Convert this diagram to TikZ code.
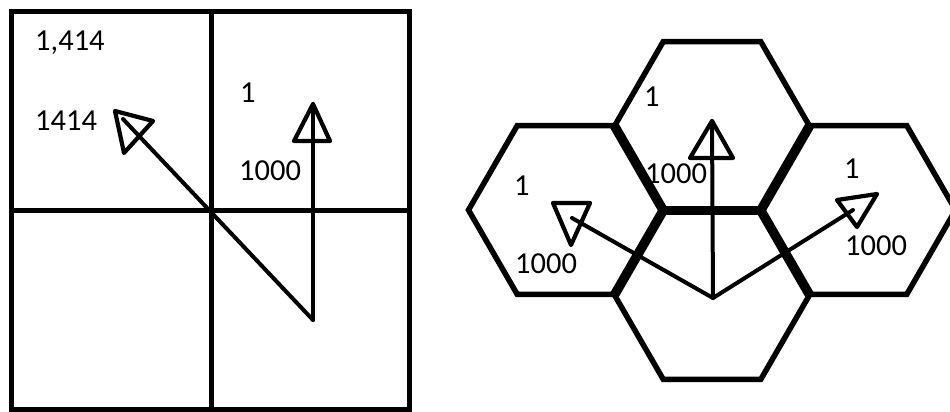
\documentclass[tikz,border=0pt]{standalone}
\usepackage{fontspec}
\setmainfont{Carlito}
\begin{document}
\begin{tikzpicture}[x=1pt,y=-1pt,
  gridline/.style={line width=5pt, line cap=rect},
  hexline/.style={line width=5.5pt, line join=miter},
  sharedline/.style={line width=9.5pt, line cap=butt},
  vecline/.style={line width=4pt, line cap=round, line join=round},
  headtri/.style={line width=4.2pt, line join=round},
  lbl/.style={inner sep=0pt, anchor=base west, font=\fontsize{30.5}{36}\selectfont}]
\useasboundingbox (0,0) rectangle (950,412);
\fill[white] (0,0) rectangle (950,412);

% ---------- left: square grid ----------
\draw[gridline] (11,12) rectangle (409,409);
\draw[gridline] (211,12) -- (211,409);
\draw[gridline] (11,210) -- (409,210);

\coordinate (o1) at (313,320);
\coordinate (up1) at (313,104);
\coordinate (dg1) at (123,119);
\draw[vecline] (o1) -- (up1);
\draw[vecline] (o1) -- (dg1);
\draw[headtri] (313,104) -- (294,141) -- (330,141) -- cycle;
\draw[headtri] (115,111) -- (153,121) -- (124,153) -- cycle;

\node[lbl] (t1) at (35,51) {1,414};
\node[lbl] (t2) at (35,130) {1414};
\node[lbl] (t3) at (240,102) {1};
\node[lbl] (t4) at (239,180) {1000};

% ---------- right: hexagons ----------
\def\hexR{97.5}
\def\hexH{84.4}
\newcommand{\myhex}[2]{%
  \draw[hexline] ({#1+\hexR},#2) -- ({#1+\hexR/2},{#2+\hexH}) -- ({#1-\hexR/2},{#2+\hexH})
    -- ({#1-\hexR},#2) -- ({#1-\hexR/2},{#2-\hexH}) -- ({#1+\hexR/2},{#2-\hexH}) -- cycle;}
\myhex{712}{126}
\myhex{712}{295}
\myhex{566}{210}
\myhex{858}{210}
% shared edges
\draw[sharedline] (614.5,126) -- (663.25,210.4);
\draw[sharedline] (809.5,126) -- (760.75,210.4);
\draw[sharedline] (663.25,210.4) -- (760.75,210.4);
\draw[sharedline] (663.25,210.4) -- (614.5,294.8);
\draw[sharedline] (760.75,210.4) -- (809.5,294.8);

\coordinate (o2) at (713,298);
\coordinate (up2) at (712,121);
\coordinate (lf2) at (572,218);
\coordinate (rt2) at (853,210);
\draw[vecline] (o2) -- (up2);
\draw[vecline] (o2) -- (lf2);
\draw[vecline] (o2) -- (rt2);
\draw[headtri] (712,121) -- (690,158) -- (733,158) -- cycle;
\draw[headtri] (553,203) -- (590,203) -- (571,245) -- cycle;
\draw[headtri] (837,200) -- (877,194) -- (857,227) -- cycle;

\node[lbl] (h1) at (644,106) {1};
\node[lbl] (h2) at (645,183) {1000};
\node[lbl] (h3) at (514,195) {1};
\node[lbl] (h4) at (515,273) {1000};
\node[lbl] (h5) at (844,178) {1};
\node[lbl] (h6) at (845,255) {1000};
\end{tikzpicture}
\end{document}
